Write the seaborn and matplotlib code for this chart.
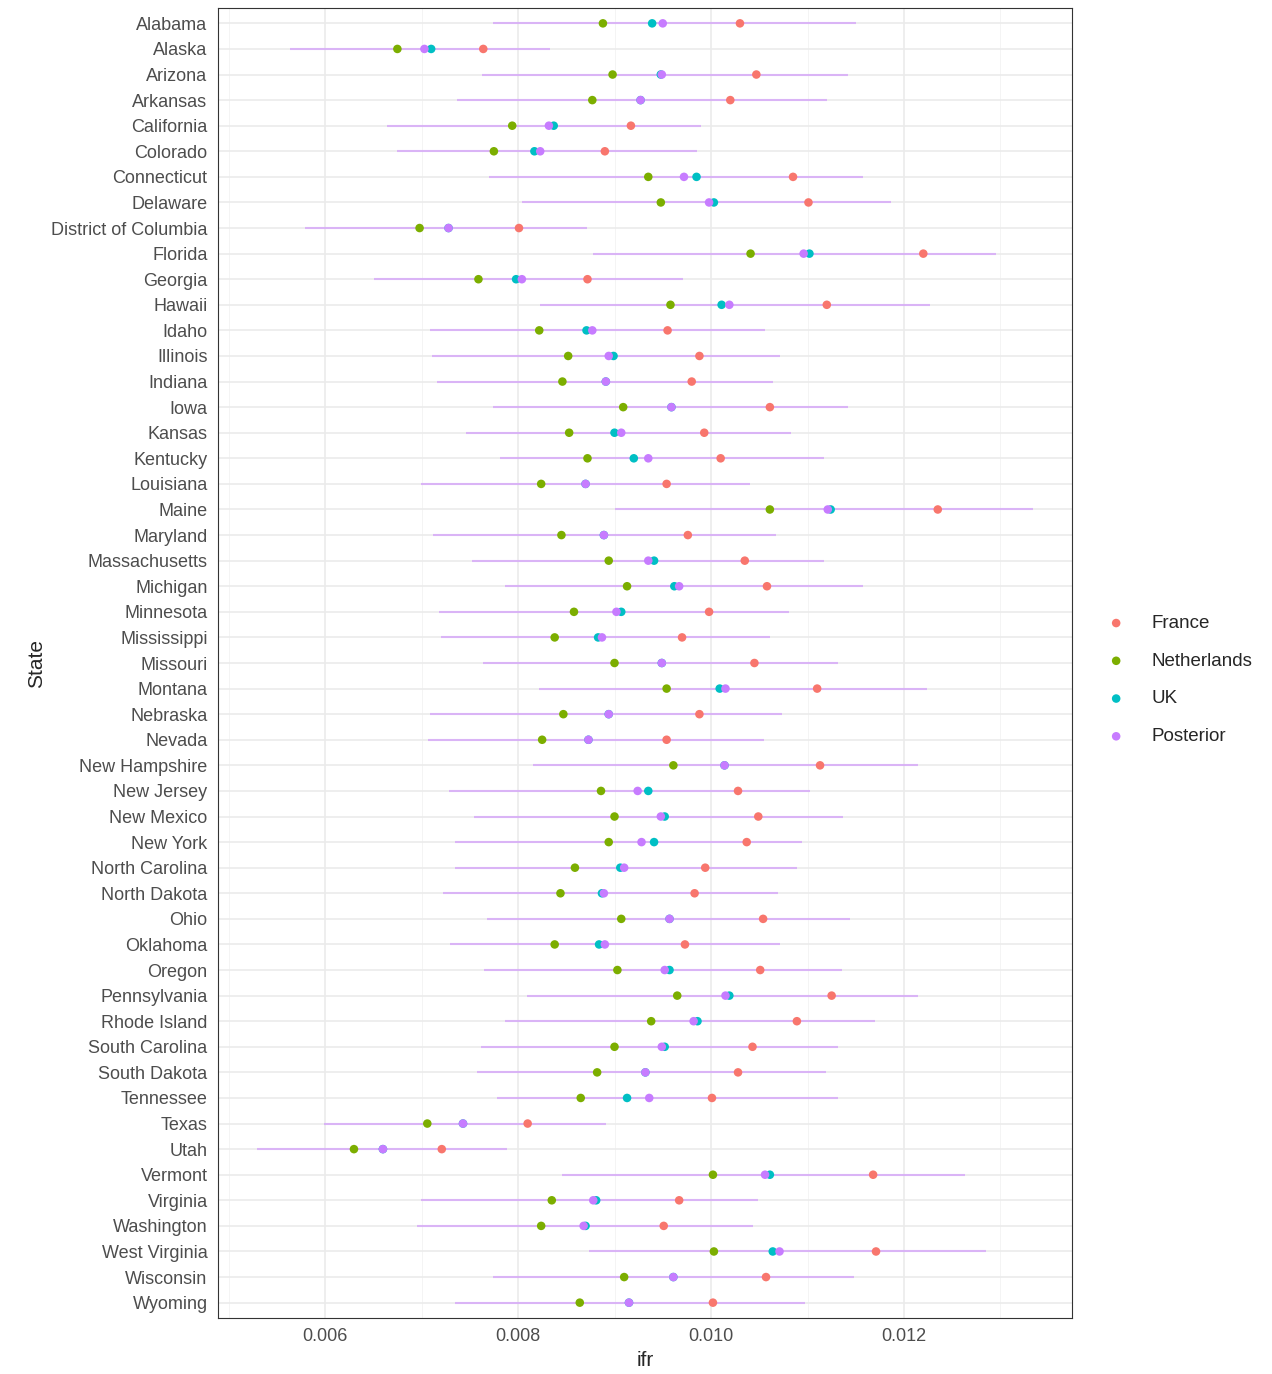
import matplotlib
matplotlib.use("Agg")
import matplotlib.pyplot as plt
import seaborn as sns
import pandas as pd
import numpy as np

states = ["Alabama","Alaska","Arizona","Arkansas","California","Colorado","Connecticut","Delaware",
"District of Columbia","Florida","Georgia","Hawaii","Idaho","Illinois","Indiana","Iowa","Kansas",
"Kentucky","Louisiana","Maine","Maryland","Massachusetts","Michigan","Minnesota","Mississippi",
"Missouri","Montana","Nebraska","Nevada","New Hampshire","New Jersey","New Mexico","New York",
"North Carolina","North Dakota","Ohio","Oklahoma","Oregon","Pennsylvania","Rhode Island",
"South Carolina","South Dakota","Tennessee","Texas","Utah","Vermont","Virginia","Washington",
"West Virginia","Wisconsin","Wyoming"]

# values in units of 1e-3
lower = [7.74,5.64,7.63,7.37,6.64,6.75,7.70,8.04,5.79,8.78,6.51,8.23,7.09,7.11,7.16,7.74,7.46,7.81,6.99,9.00,
         7.12,7.52,7.86,7.18,7.20,7.64,8.22,7.09,7.07,8.16,7.29,7.54,7.35,7.35,7.22,7.68,7.30,7.65,8.09,7.87,
         7.62,7.58,7.78,5.99,5.29,8.46,6.99,6.95,8.74,7.74,7.35]
netherlands = [8.88,6.75,8.98,8.77,7.94,7.75,9.35,9.48,6.98,10.41,7.59,9.58,8.22,8.52,8.46,9.09,8.53,8.72,8.24,10.61,
         8.45,8.94,9.13,8.58,8.38,9.00,9.54,8.47,8.25,9.61,8.86,9.00,8.94,8.59,8.44,9.07,8.38,9.03,9.65,9.38,
         9.00,8.82,8.65,7.06,6.30,10.02,8.35,8.24,10.03,9.10,8.64]
uk = [9.39,7.10,9.48,9.27,8.37,8.17,9.85,10.03,7.28,11.02,7.98,10.11,8.71,8.99,8.91,9.59,9.00,9.20,8.70,11.24,
      8.89,9.41,9.62,9.07,8.83,9.49,10.09,8.94,8.73,10.14,9.35,9.52,9.41,9.06,8.87,9.57,8.84,9.57,10.19,9.86,
      9.52,9.32,9.13,7.43,6.60,10.61,8.81,8.70,10.64,9.61,9.15]
posterior = [9.50,7.03,9.49,9.27,8.32,8.23,9.72,9.98,7.28,10.96,8.04,10.19,8.77,8.94,8.91,9.59,9.07,9.35,8.70,11.21,
      8.89,9.35,9.67,9.02,8.87,9.49,10.15,8.94,8.73,10.14,9.24,9.48,9.28,9.10,8.89,9.57,8.90,9.52,10.15,9.82,
      9.49,9.32,9.36,7.43,6.60,10.56,8.78,8.68,10.71,9.61,9.15]
france = [10.30,7.64,10.47,10.20,9.17,8.90,10.85,11.01,8.01,12.20,8.72,11.20,9.55,9.88,9.80,10.61,9.93,10.10,9.54,12.35,
      9.76,10.35,10.58,9.98,9.70,10.45,11.10,9.88,9.54,11.13,10.28,10.49,10.37,9.94,9.83,10.54,9.73,10.51,11.25,10.89,
      10.43,10.28,10.01,8.10,7.21,11.68,9.67,9.51,11.71,10.57,10.02]
upper = [11.50,8.33,11.42,11.20,9.90,9.85,11.58,11.87,8.71,12.95,9.71,12.27,10.56,10.71,10.64,11.42,10.83,11.17,10.40,13.34,
      10.67,11.17,11.58,10.81,10.61,11.32,12.24,10.74,10.55,12.15,11.03,11.37,10.94,10.89,10.69,11.44,10.71,11.36,12.15,11.70,
      11.32,11.19,11.32,8.91,7.89,12.63,10.49,10.44,12.85,11.48,10.97]

sources = ["France", "Netherlands", "UK", "Posterior"]
colors = ["#F8766D", "#7CAE00", "#00BFC4", "#C77CFF"]
scale = 1e-3

rows = []
for src, vals in zip(sources, [france, netherlands, uk, posterior]):
    for s, v in zip(states, vals):
        rows.append({"State": s, "ifr": v * scale, "source": src})
df = pd.DataFrame(rows)

sns.set_theme(style="whitegrid")
plt.rcParams['font.family'] = ['Liberation Sans', 'DejaVu Sans']
fig = plt.figure(figsize=(12.72, 13.74), dpi=100)
ax = fig.add_axes([218/1272, 1-1318/1374, (1072-218)/1272, (1318-8)/1374])

ypos = np.arange(len(states))
ax.hlines(ypos, np.array(lower) * scale, np.array(upper) * scale, color="#C77CFF", alpha=0.5, lw=1.5, zorder=2)
for src, c in zip(sources, colors):
    sub = df[df.source == src]
    ax.scatter(sub["ifr"], [states.index(s) for s in sub["State"]], color=c, s=38, zorder=3,
               edgecolors="none", label=src)

ax.set_yticks(ypos)
ax.set_yticklabels(states, fontsize=13, color="#4D4D4D")
ax.set_ylim(len(states) - 0.5 + 0.1, -0.6)
ax.set_xlim(0.004891, 0.013741)
ax.set_xticks([0.006, 0.008, 0.010, 0.012])
ax.set_xticklabels(["0.006", "0.008", "0.010", "0.012"], fontsize=13, color="#4D4D4D")
ax.set_xticks([0.005, 0.007, 0.009, 0.011, 0.013], minor=True)
ax.grid(True, which="major", color="#EBEBEB", lw=1.2)
ax.grid(True, which="minor", axis="x", color="#F3F3F3", lw=0.6)
ax.set_axisbelow(True)
for sp in ax.spines.values():
    sp.set_color("#333333")
    sp.set_linewidth(0.8)
ax.tick_params(axis="both", length=4, color="#333333", which="major")
ax.tick_params(axis="x", which="minor", length=0)
ax.set_xlabel("ifr", fontsize=15)
ax.set_ylabel("State", fontsize=15)

leg = ax.legend(loc="center left", bbox_to_anchor=(1.01, 0.487), frameon=False, fontsize=13.5,
                handletextpad=0.9, labelspacing=1.1, markerscale=1.0)
fig.savefig("out.png", dpi=100)
